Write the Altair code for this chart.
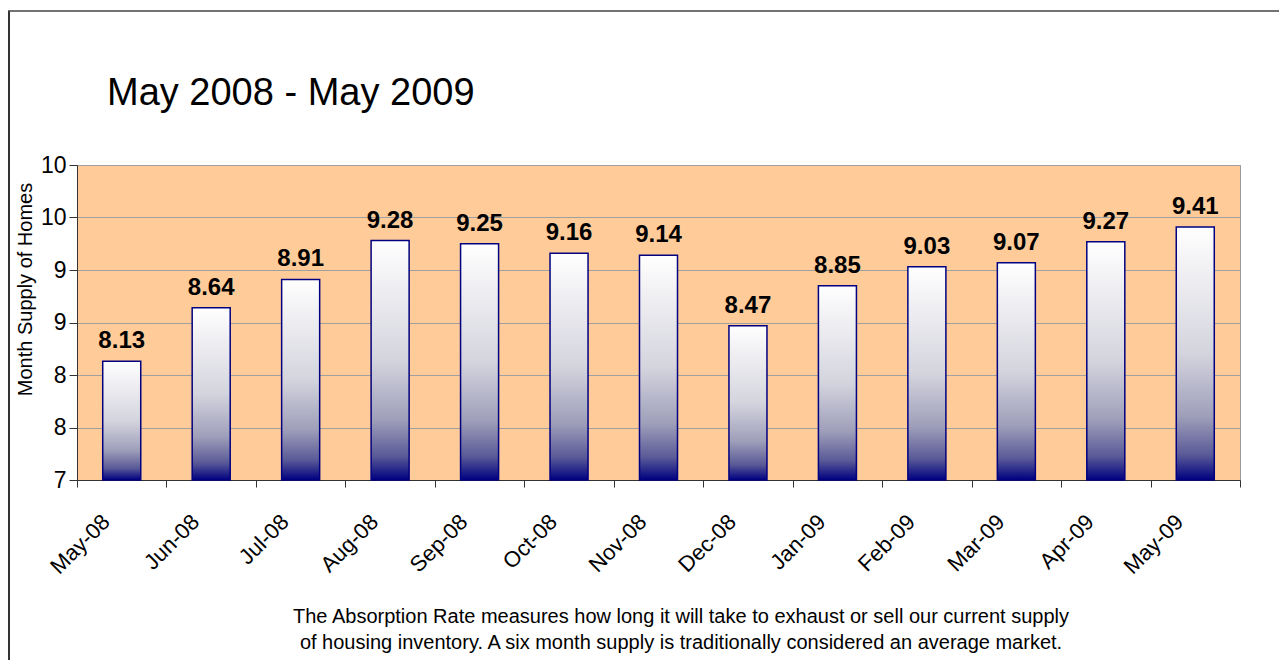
import altair as alt
import pandas as pd

FONT = "Liberation Sans"

months = ["May-08", "Jun-08", "Jul-08", "Aug-08", "Sep-08", "Oct-08", "Nov-08",
          "Dec-08", "Jan-09", "Feb-09", "Mar-09", "Apr-09", "May-09"]
supply = [8.13, 8.64, 8.91, 9.28, 9.25, 9.16, 9.14, 8.47, 8.85, 9.03, 9.07, 9.27, 9.41]
bar_labels = ["8.13", "8.64", "8.91", "9.28", "9.25", "9.16", "9.14",
              "8.47", "8.85", "9.03", "9.07", "9.27", "9.41"]
y_tick_values = [7, 7.5, 8, 8.5, 9, 9.5, 10]
y_tick_labels = ["7", "8", "8", "9", "9", "10", "10"]
title_text = "May 2008 - May 2009"
y_title = "Month Supply of Homes"
caption_lines = [
    "The Absorption Rate measures how  long it will take to exhaust or sell our current supply",
    "of housing inventory.  A six month supply is traditionally considered an average market.",
]

W, H = 1163, 315

df = pd.DataFrame({"month": months, "supply": supply, "label": bar_labels})
one = pd.DataFrame({"t": [title_text]})
cap = pd.DataFrame({"t": ["\n".join(caption_lines)]})

label_expr = "[{}][indexof([{}], datum.value)]".format(
    ",".join("'%s'" % s for s in y_tick_labels),
    ",".join(str(v) for v in y_tick_values),
)

x_enc = alt.X(
    "month:N", sort=months,
    scale=alt.Scale(paddingInner=0, paddingOuter=0),
    axis=alt.Axis(title=None, labelAngle=315, labelAlign="right", labelBaseline="middle",
                  labelFontSize=22, labelFont=FONT, labelColor="black",
                  labelPadding=31, labelOffset=-16,
                  tickBand="extent", tickSize=7, tickColor="#333", domainColor="#333",
                  grid=False),
)
y_enc = alt.Y(
    "supply:Q",
    scale=alt.Scale(domain=[7, 10], nice=False, zero=False),
    axis=alt.Axis(title=y_title, values=y_tick_values, labelExpr=label_expr,
                  labelFontSize=23, labelFont=FONT, labelColor="black", labelPadding=3,
                  tickSize=8, tickColor="#333", domainColor="#333",
                  grid=True, gridColor="#a0a0a0", gridWidth=1,
                  titleFont=FONT, titleFontSize=20, titleFontWeight="normal",
                  titleColor="black", titleX=-52, titleY=124, titleAlign="center",
                  titleBaseline="middle"),
)

base = alt.Chart(df)

grad = alt.Gradient(
    gradient="linear", x1=0, x2=0, y1=0, y2=1,
    stops=[
        alt.GradientStop(color="#ffffff", offset=0),
        alt.GradientStop(color="#d4d4de", offset=0.5),
        alt.GradientStop(color="#9e9eba", offset=0.75),
        alt.GradientStop(color="#5a5a98", offset=0.9),
        alt.GradientStop(color="#000080", offset=1),
    ],
)

bars = base.mark_bar(color=grad, stroke="#000080", strokeWidth=1.5,
                     width=alt.RelativeBandSize(0.425)).encode(
    x=x_enc, y=y_enc, y2=alt.datum(7)
)

labels = base.mark_text(baseline="alphabetic", dy=-13, fontSize=24, fontWeight="bold",
                        font=FONT, color="black").encode(
    x=alt.X("month:N", sort=months), y="supply:Q", text="label:N"
)

title = alt.Chart(one).mark_text(align="left", baseline="alphabetic", fontSize=38,
                                 font=FONT, color="black").encode(
    x=alt.value(30), y=alt.value(-60), text="t:N"
)

caption = alt.Chart(cap).mark_text(align="center", baseline="alphabetic", fontSize=20,
                                   font=FONT, color="black", lineBreak="\n",
                                   lineHeight=26).encode(
    x=alt.value(604), y=alt.value(458), text="t:N"
)

frame_left = alt.Chart(one).mark_rule(color="#333", strokeWidth=2).encode(
    x=alt.value(-68), y=alt.value(-154), y2=alt.value(500)
)
frame_top = alt.Chart(one).mark_rule(color="#444", strokeWidth=1.5).encode(
    x=alt.value(-69), x2=alt.value(1202), y=alt.value(-154)
)

chart = alt.layer(bars, labels, title, caption, frame_left, frame_top).properties(
    width=W, height=H,
    autosize=alt.AutoSizeParams(type="none"),
    padding={"left": 69, "top": 157, "right": 39, "bottom": 180},
).configure(
    background="white",
    view=alt.ViewConfig(fill="#FFCC99", stroke="#999999", strokeWidth=1),
)

chart.save("out.html", embed_options={"renderer": "svg", "actions": False})
